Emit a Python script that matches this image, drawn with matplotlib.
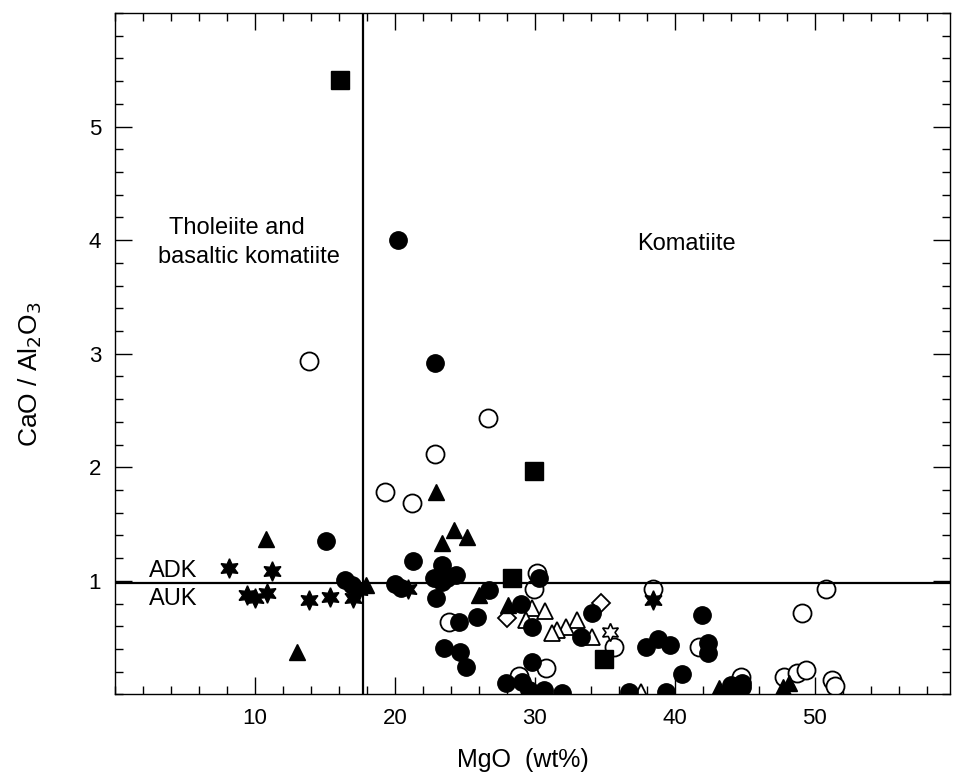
import matplotlib
matplotlib.use("Agg")
import matplotlib.pyplot as plt
from matplotlib.ticker import MultipleLocator

plt.rcParams['font.family'] = ['Liberation Sans', 'DejaVu Sans']

# MgO (wt%) and CaO/Al2O3 for each group of samples
filled_circle_mgo = [15.05, 16.43, 16.9, 20.21, 22.84, 21.31, 20.0, 20.4, 23.34, 22.79,
                     23.74, 24.34, 23.34, 22.9, 26.7, 30.29, 28.98, 29.76, 24.57, 25.89,
                     23.5, 24.64, 25.05, 29.81, 27.9, 29.1, 29.57, 30.64, 31.96, 36.7,
                     39.34, 40.53, 37.91, 38.81, 39.62, 41.91, 42.38, 42.38, 33.26, 34.1,
                     44.1, 44.81, 43.98, 44.81]
filled_circle_ratio = [1.35, 1.007, 0.96, 4.0, 2.92, 1.174, 0.97, 0.94, 1.139, 1.022,
                       1.022, 1.05, 0.99, 0.846, 0.92, 1.027, 0.80, 0.596, 0.64, 0.684,
                       0.406, 0.376, 0.245, 0.289, 0.099, 0.113, 0.04, 0.04, 0.016, 0.025,
                       0.025, 0.178, 0.42, 0.485, 0.435, 0.699, 0.45, 0.362, 0.51, 0.714,
                       0.055, 0.069, 0.084, 0.099]

open_circle_mgo = [13.86, 26.67, 22.86, 19.29, 21.2, 30.17, 29.93, 23.86, 30.76, 28.86,
                   35.64, 38.43, 41.71, 44.74, 47.79, 48.74, 49.34, 51.24, 51.45, 49.1,
                   50.76]
open_circle_ratio = [2.94, 2.43, 2.12, 1.78, 1.69, 1.066, 0.925, 0.64, 0.23, 0.16,
                     0.42, 0.925, 0.42, 0.157, 0.157, 0.186, 0.215, 0.128, 0.075, 0.714,
                     0.925]

square_mgo = [16.07, 29.93, 28.39, 34.93]
square_ratio = [5.41, 1.97, 1.022, 0.312]

filled_tri_mgo = [10.76, 13.03, 22.97, 24.21, 23.38, 25.12, 26.0, 28.1, 17.9, 43.14, 47.7, 48.14]
filled_tri_ratio = [1.365, 0.376, 1.785, 1.447, 1.33, 1.383, 0.88, 0.79, 0.96, 0.055, 0.07, 0.1]

open_tri_mgo = [29.81, 30.7, 29.34, 33.03, 32.19, 31.6, 31.24, 34.1, 37.55]
open_tri_ratio = [0.758, 0.735, 0.655, 0.655, 0.596, 0.567, 0.538, 0.51, 0.025]

diamond_mgo = [28.03, 34.69]
diamond_ratio = [0.67, 0.802]

filled_star_mgo = [8.16, 11.19, 9.46, 10.0, 10.88, 13.86, 15.36, 17.03, 17.43, 20.9, 38.43]
filled_star_ratio = [1.11, 1.09, 0.875, 0.846, 0.895, 0.83, 0.86, 0.846, 0.92, 0.93, 0.83]

open_star_mgo = [35.36]
open_star_ratio = [0.552]

mgo_divide = 17.75
ratio_divide = 0.98

fig = plt.figure(figsize=(9.58, 7.84), dpi=100)
ax = fig.add_axes([0.1200, 0.1142, 0.8716, 0.8693])

star6 = (6, 1, 0)
ax.plot(open_circle_mgo, open_circle_ratio, 'o', ms=13, mfc='white', mec='black', mew=1.3, ls='none')
ax.plot(open_tri_mgo, open_tri_ratio, '^', ms=11, mfc='white', mec='black', mew=1.3, ls='none')
ax.plot(diamond_mgo, diamond_ratio, 'D', ms=9, mfc='white', mec='black', mew=1.3, ls='none')
ax.plot(open_star_mgo, open_star_ratio, marker=star6, ms=13, mfc='white', mec='black', mew=1.2, ls='none')
ax.plot(filled_circle_mgo, filled_circle_ratio, 'o', ms=12.5, color='black', ls='none')
ax.plot(square_mgo, square_ratio, 's', ms=13, color='black', ls='none')
ax.plot(filled_tri_mgo, filled_tri_ratio, '^', ms=11.5, color='black', ls='none')
ax.plot(filled_star_mgo, filled_star_ratio, marker=star6, ms=14, color='black', ls='none')

ax.axvline(mgo_divide, color='black', lw=1.6)
ax.axhline(ratio_divide, color='black', lw=1.6)

ax.set_xlim(0, 59.65)
ax.set_ylim(0, 6)
ax.xaxis.set_minor_locator(MultipleLocator(2))
ax.yaxis.set_minor_locator(MultipleLocator(0.2))
ax.set_xticks([10, 20, 30, 40, 50])
ax.set_yticks([1, 2, 3, 4, 5])
ax.tick_params(which='both', direction='in', top=True, right=True, width=1.0)
ax.tick_params(which='major', length=12, labelsize=16, pad=10)
ax.tick_params(which='minor', length=6)
for spine in ax.spines.values():
    spine.set_linewidth(1.0)

ax.text(3.84, 4.11, 'Tholeiite and', fontsize=17, ha='left', va='center')
ax.text(3.05, 3.85, 'basaltic komatiite', fontsize=17, ha='left', va='center')
ax.text(40.8, 3.97, 'Komatiite', fontsize=17, ha='center', va='center')
ax.text(2.4, 1.09, 'ADK', fontsize=17, ha='left', va='center')
ax.text(2.4, 0.84, 'AUK', fontsize=17, ha='left', va='center')

ax.set_xlabel('MgO  (wt%)', fontsize=18)
ax.xaxis.set_label_coords(0.488, -0.078)
ax.set_ylabel('CaO / Al$_2$O$_3$', fontsize=19)
ax.yaxis.set_label_coords(-0.085, 0.47)

fig.savefig('out.png', dpi=100)
